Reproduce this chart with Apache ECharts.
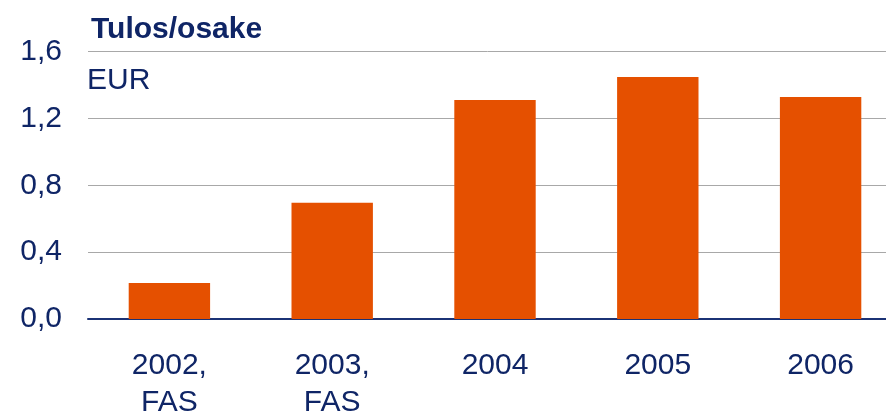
<!DOCTYPE html>
<html>
<head>
<meta charset="utf-8">
<script src="https://cdn.jsdelivr.net/npm/echarts@6/dist/echarts.min.js"></script>
<style>
html,body{margin:0;padding:0;background:#fff;}
#c{width:886px;height:418px;}
</style>
</head>
<body>
<div id="c"></div>
<script>
var categories = ['2002,\nFAS', '2003,\nFAS', '2004', '2005', '2006'];
var values = [0.215, 0.695, 1.31, 1.447, 1.328];
var titleText = 'Tulos/osake';
var unitText = 'EUR';

var navy = '#0f2566';
var ff = 'Liberation Sans, Arial, sans-serif';
var chart = echarts.init(document.getElementById('c'), null, {renderer: 'canvas'});
chart.setOption({
  animation: false,
  backgroundColor: '#fff',
  textStyle: {fontFamily: ff},
  title: {
    text: titleText,
    left: 86, top: 10,
    textStyle: {fontSize: 30, fontWeight: 'bold', color: navy, fontFamily: ff}
  },
  graphic: [{
    type: 'text', left: 87, top: 66,
    style: {text: unitText, fontSize: 30, fill: navy, fontFamily: ff}
  }],
  grid: {left: 88, width: 814, top: 51.5, bottom: 99, containLabel: false, outerBoundsMode: 'none'},
  xAxis: {
    type: 'category',
    data: categories,
    axisTick: {show: false},
    axisLine: {lineStyle: {color: '#1b3275', width: 2}},
    axisLabel: {color: navy, fontSize: 30, lineHeight: 37, margin: 28, interval: 0, fontFamily: ff}
  },
  yAxis: {
    type: 'value', min: 0, max: 1.6, interval: 0.4,
    axisLine: {show: false}, axisTick: {show: false},
    splitLine: {lineStyle: {color: '#a8a8a8', width: 1}},
    axisLabel: {color: navy, fontSize: 30, margin: 26, fontFamily: ff,
      formatter: function (v) { return v.toFixed(1).replace('.', ','); }}
  },
  series: [{
    type: 'bar', data: values, barWidth: '50%',
    itemStyle: {color: '#E55000'}
  }]
});
</script>
</body>
</html>
